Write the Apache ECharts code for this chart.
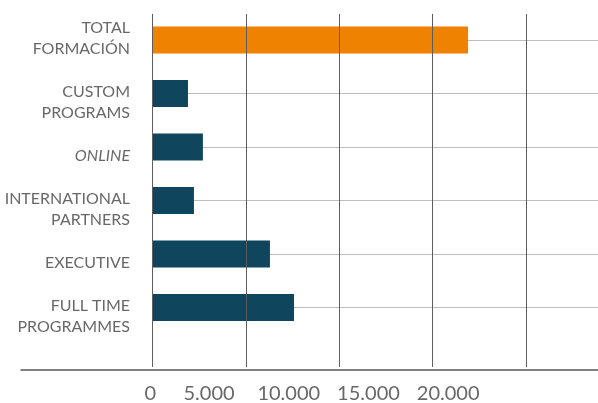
<!DOCTYPE html>
<html>
<head>
<meta charset="utf-8">
<script src="https://cdn.jsdelivr.net/npm/echarts@6/dist/echarts.min.js"></script>
<style>html,body{margin:0;padding:0;background:#fff}#c{width:598px;height:403px}</style>
</head>
<body>
<div id="c"></div>
<script>
const categories = ['TOTAL\nFORMACIÓN','CUSTOM\nPROGRAMS','ONLINE','INTERNATIONAL\nPARTNERS','EXECUTIVE','FULL TIME\nPROGRAMMES'];
const values = [16900, 1900, 2700, 2220, 6290, 7580];
const tickLabels = [0, 5000, 10000, 15000, 20000];
const highlightCategory = 'TOTAL\nFORMACIÓN';

const CAT_FONT = 'Lato';
const NUM_FONT = 'Lato';
const TXT = '#686868';
const chart = echarts.init(document.getElementById('c'), null, {renderer:'canvas'});
const fmt = v => String(v).replace(/\B(?=(\d{3})+(?!\d))/g, '.');
const gridBase = {left: 152.5, right: 0, outerBoundsMode: 'none', containLabel: false};
chart.setOption({
  animation: false,
  grid: [
    Object.assign({top: 40, height: 267.4}, gridBase),
    Object.assign({top: 14, height: 353}, gridBase),
    {left: 21, right: 0, top: 368.5, height: 1, outerBoundsMode: 'none', containLabel: false},
    Object.assign({top: 48.5, height: 267.4}, gridBase)
  ],
  xAxis: [
    {gridIndex: 0, type: 'value', min: 0, max: 23860, show: false},
    {gridIndex: 1, type: 'value', min: 0, max: 23860, interval: 5000, z: 5,
     axisLine: {show: false}, axisTick: {show: false}, axisLabel: {show: false},
     splitLine: {show: true, lineStyle: {color: '#5e5e5e', width: 1}}},
    {gridIndex: 2, type: 'value', min: -6800, max: 29400,
     axisLine: {show: true, onZero: false, lineStyle: {color: '#5a5a5a', width: 1.5}},
     axisTick: {show: false}, splitLine: {show: false},
     axisLabel: {customValues: tickLabels, margin: 14, color: TXT, fontFamily: NUM_FONT, fontSize: 20,
       formatter: v => v === 0 ? '{z|0}' : fmt(v),
       rich: {z: {padding: [0, 0, 0, 42], color: TXT, fontFamily: NUM_FONT, fontSize: 20}}}},
    {gridIndex: 3, type: 'value', min: 0, max: 23860, show: false}
  ],
  yAxis: [
    {gridIndex: 0, type: 'category', data: categories, inverse: true, boundaryGap: false,
     axisLine: {show: false}, axisTick: {show: false}, axisLabel: {show: false},
     splitLine: {show: true, interval: 0, lineStyle: {color: '#bdbdbd', width: 1}}},
    {gridIndex: 1, type: 'value', show: false},
    {gridIndex: 2, type: 'value', show: false},
    {gridIndex: 3, type: 'category', data: categories, inverse: true, boundaryGap: false,
     axisLine: {show: false}, axisTick: {show: false}, splitLine: {show: false},
     axisLabel: {interval: 0, margin: 22.5, color: TXT, fontFamily: CAT_FONT, fontSize: 16, lineHeight: 21,
       formatter: v => v === 'ONLINE' ? '{i|ONLINE}' : (v === highlightCategory ? v + '\n ' : v),
       rich: {i: {fontStyle: 'italic', color: TXT, fontFamily: CAT_FONT, fontSize: 16, lineHeight: 21}}}}
  ],
  series: [{
    type: 'bar', xAxisIndex: 0, yAxisIndex: 0, barWidth: 27,
    data: values,
    itemStyle: {color: p => categories[p.dataIndex] === highlightCategory ? '#ef8200' : '#0f465e'}
  }]
});
</script>
</body>
</html>
